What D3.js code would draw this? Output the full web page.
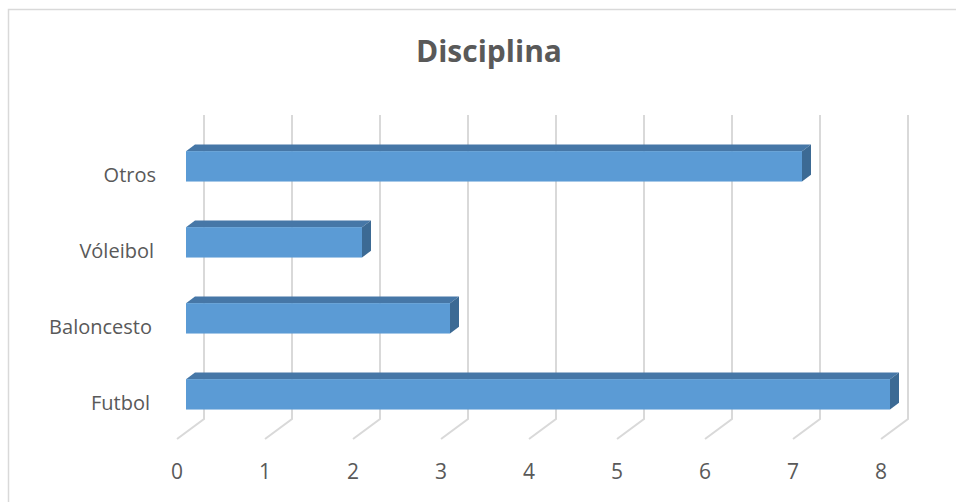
<!DOCTYPE html>
<html>
<head>
<meta charset="utf-8">
<script src="https://cdn.jsdelivr.net/npm/d3@7"></script>
<style>
  body { margin: 0; background: #fff; }
  text { font-family: "Open Sans", "Liberation Sans", sans-serif; fill: #595959; }
</style>
</head>
<body>
<div id="chart"></div>
<script>
const categories = ["Otros", "Vóleibol", "Baloncesto", "Futbol"];
const values = [7, 2, 3, 8];
const ticks = [0, 1, 2, 3, 4, 5, 6, 7, 8];
const title = "Disciplina";

const W = 956, H = 502;
// depth of the 3D floor: back plane is shifted right and up
const depth = { dx: 27, dy: -20 };
const barZ = [1 / 3, 2 / 3];

const x = d3.scaleLinear().domain([0, 8]).range([177, 881]);
const y = d3.scaleBand().domain(categories).range([135, 439])
    .paddingInner(0.6).paddingOuter(0.3);

const proj = (px, py, z) => [px + depth.dx * z, py + depth.dy * z];

const svg = d3.select("#chart").append("svg")
    .attr("width", W)
    .attr("height", H);

svg.append("rect")
    .attr("x", 8.5).attr("y", 9.5)
    .attr("width", W + 10).attr("height", H + 10)
    .attr("fill", "#fff")
    .attr("stroke", "#d9d9d9")
    .attr("stroke-width", 1.5);

svg.append("text")
    .attr("x", 489)
    .attr("y", 62)
    .attr("text-anchor", "middle")
    .style("font-size", "30px")
    .style("font-weight", "bold")
    .text(title);

// gridlines: vertical on back wall, diagonal on floor
const yTop = y.range()[0], yBot = y.range()[1];
svg.append("g").selectAll("path")
    .data(ticks)
    .enter().append("path")
    .attr("fill", "none")
    .attr("stroke", "#d9d9d9")
    .attr("stroke-width", 2)
    .attr("d", v => {
        const a = proj(x(v), yTop, 1), b = proj(x(v), yBot, 1), c = proj(x(v), yBot, 0);
        return `M${a}L${b}L${c}`;
    });

svg.append("g").selectAll("text")
    .data(ticks)
    .enter().append("text")
    .attr("x", v => x(v))
    .attr("y", 471)
    .attr("text-anchor", "middle")
    .attr("dominant-baseline", "central")
    .style("font-size", "21px")
    .text(v => v);

const bars = svg.append("g").selectAll("g")
    .data(categories.map((c, i) => ({ c, v: values[i] })))
    .enter().append("g");

const x0 = x(0), face = d => {
    const [fx, fy] = proj(x0, y(d.c), barZ[0]);
    return { l: fx, r: fx + x(d.v) - x0, t: fy, b: fy + y.bandwidth() };
};
const bdx = depth.dx * (barZ[1] - barZ[0]), bdy = depth.dy * (barZ[1] - barZ[0]);

bars.append("path")
    .attr("fill", "#4677a7")
    .attr("d", d => {
        const f = face(d);
        return `M${f.l},${f.t}L${f.l + bdx},${f.t + bdy}L${f.r + bdx},${f.t + bdy}L${f.r},${f.t}Z`;
    });

bars.append("path")
    .attr("fill", "#3c6a94")
    .attr("d", d => {
        const f = face(d);
        return `M${f.r},${f.t}L${f.r + bdx},${f.t + bdy}L${f.r + bdx},${f.b + bdy}L${f.r},${f.b}Z`;
    });

bars.append("rect")
    .attr("fill", "#5b9bd5")
    .attr("x", d => face(d).l)
    .attr("y", d => face(d).t)
    .attr("width", d => face(d).r - face(d).l)
    .attr("height", y.bandwidth());

// category labels sit on a slightly slanted axis in the 3D view
svg.append("g").selectAll("text")
    .data(categories)
    .enter().append("text")
    .attr("x", (c, i) => 156 - 2 * i)
    .attr("y", c => y(c) + y.bandwidth() / 2 + 1)
    .attr("text-anchor", "end")
    .attr("dominant-baseline", "central")
    .style("font-size", "20px")
    .text(c => c);
</script>
</body>
</html>
